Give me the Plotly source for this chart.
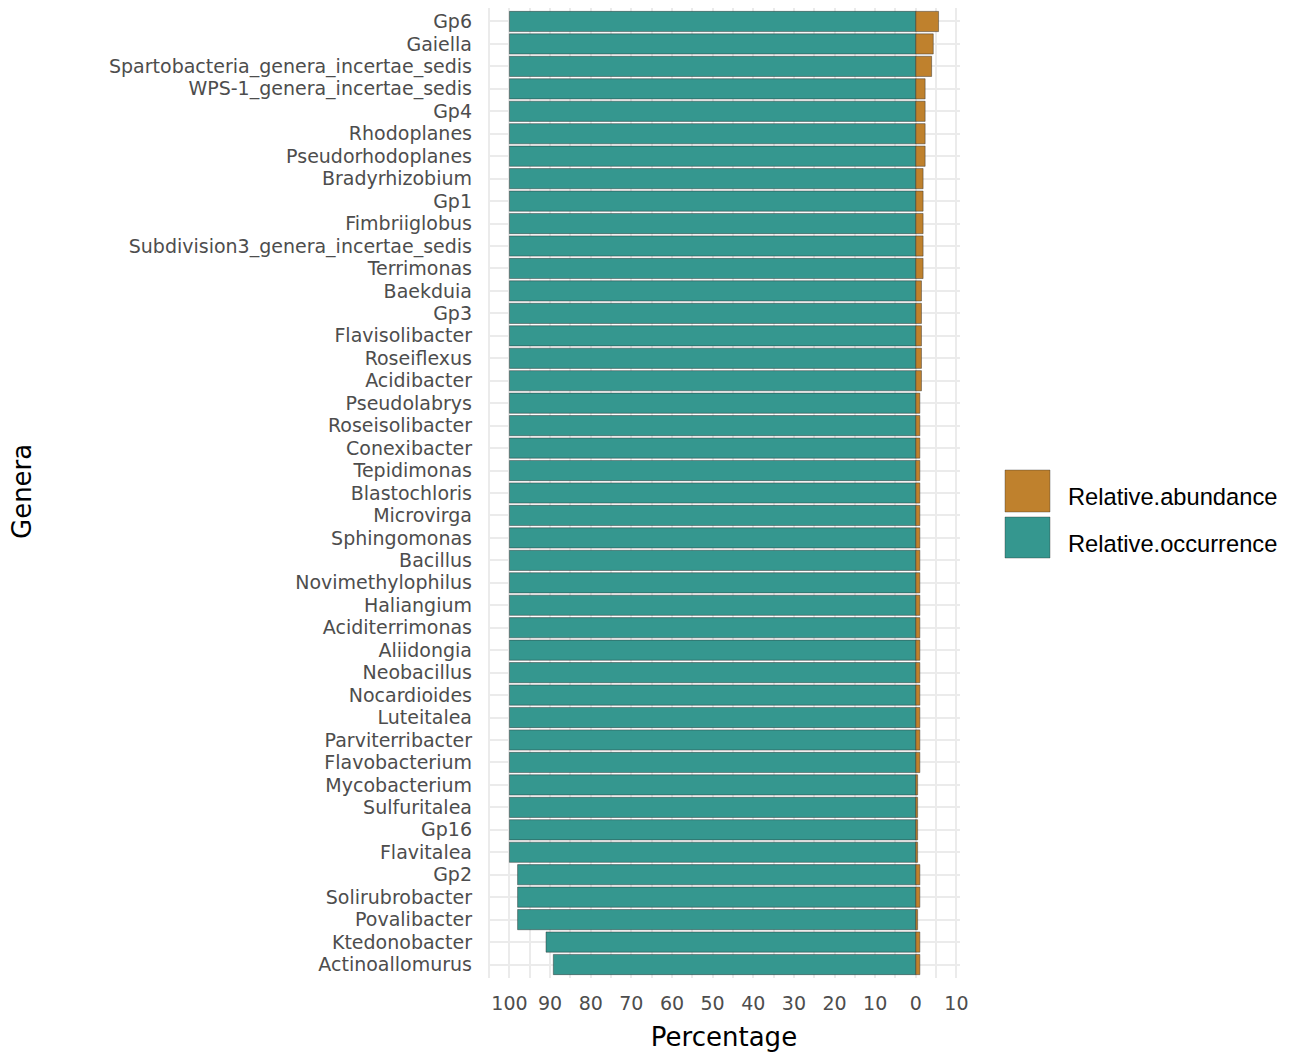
import plotly.graph_objects as go

genera = [
    "Gp6", "Gaiella", "Spartobacteria_genera_incertae_sedis", "WPS-1_genera_incertae_sedis",
    "Gp4", "Rhodoplanes", "Pseudorhodoplanes", "Bradyrhizobium", "Gp1", "Fimbriiglobus",
    "Subdivision3_genera_incertae_sedis", "Terrimonas", "Baekduia", "Gp3", "Flavisolibacter",
    "Roseiflexus", "Acidibacter", "Pseudolabrys", "Roseisolibacter", "Conexibacter",
    "Tepidimonas", "Blastochloris", "Microvirga", "Sphingomonas", "Bacillus",
    "Novimethylophilus", "Haliangium", "Aciditerrimonas", "Aliidongia", "Neobacillus",
    "Nocardioides", "Luteitalea", "Parviterribacter", "Flavobacterium", "Mycobacterium",
    "Sulfuritalea", "Gp16", "Flavitalea", "Gp2", "Solirubrobacter", "Povalibacter",
    "Ktedonobacter", "Actinoallomurus",
]

relative_occurrence = [
    100, 100, 100, 100, 100, 100, 100, 100, 100, 100,
    100, 100, 100, 100, 100, 100, 100, 100, 100, 100,
    100, 100, 100, 100, 100, 100, 100, 100, 100, 100,
    100, 100, 100, 100, 100, 100, 100, 100, 98, 98,
    98, 91, 89.2,
]

relative_abundance = [
    5.6, 4.3, 3.9, 2.3, 2.3, 2.3, 2.3, 1.8, 1.8, 1.8,
    1.8, 1.8, 1.4, 1.4, 1.4, 1.4, 1.4, 1.0, 1.0, 1.0,
    1.0, 1.0, 1.0, 1.0, 1.0, 1.0, 1.0, 1.0, 1.0, 1.0,
    1.0, 1.0, 1.0, 1.0, 0.45, 0.45, 0.45, 0.45, 1.0, 1.0,
    0.45, 1.0, 1.0,
]

x_tick_vals = [-100, -90, -80, -70, -60, -50, -40, -30, -20, -10, 0, 10]
x_tick_text = ["100", "90", "80", "70", "60", "50", "40", "30", "20", "10", "0", "10"]

series_names = ["Relative.abundance", "Relative.occurrence"]
series_colors = ["#BF812D", "#35978F"]

FONT = "Liberation Sans, Arial, sans-serif"
TICKFONT = "DejaVu Sans, Liberation Sans, sans-serif"
outline = dict(color="rgba(40,40,40,0.55)", width=0.8)

fig = go.Figure()
fig.add_trace(go.Bar(
    y=genera, x=[-v for v in relative_occurrence], orientation="h",
    name=series_names[1], marker=dict(color=series_colors[1], line=outline),
    width=0.9, showlegend=False,
))
fig.add_trace(go.Bar(
    y=genera, x=relative_abundance, orientation="h",
    name=series_names[0], marker=dict(color=series_colors[0], line=outline),
    width=0.9, showlegend=False,
))

# panel geometry
L, R, T, B = 488, 330, 8, 74
W, H = 1290, 1052
pw, ph = W - L - R, H - T - B

def px_x(p):
    return (p - L) / pw

def px_y(p):
    return (H - B - p) / ph

# custom legend (large keys like ggplot)
legend_rows = [(series_names[0], series_colors[0], 470, 512, 497),
               (series_names[1], series_colors[1], 517, 558, 544)]
for name, col, y_top, y_bot, y_txt in legend_rows:
    fig.add_shape(type="rect", xref="paper", yref="paper",
                  x0=px_x(1005), x1=px_x(1050), y0=px_y(y_bot), y1=px_y(y_top),
                  fillcolor=col, line=dict(color="rgba(40,40,40,0.45)", width=0.8))
    fig.add_annotation(xref="paper", yref="paper", x=px_x(1066), y=px_y(y_txt),
                       text=name, showarrow=False, xanchor="left", yanchor="middle",
                       font=dict(family=FONT, size=23.7, color="#000000"))

# y-axis title placed like ggplot's
fig.add_annotation(xref="paper", yref="paper", x=px_x(22), y=px_y(492),
                   text="Genera", textangle=-90, showarrow=False,
                   xanchor="center", yanchor="middle",
                   font=dict(family=TICKFONT, size=26, color="#000000"))

fig.update_layout(
    width=W, height=H,
    margin=dict(l=L, r=R, t=T, b=B, pad=0, autoexpand=False),
    barmode="relative",
    bargap=0.1,
    plot_bgcolor="white", paper_bgcolor="white",
    font=dict(family=FONT),
    showlegend=False,
    xaxis=dict(
        range=[-105.28, 10.88], automargin=False,
        tickmode="array", tickvals=x_tick_vals, ticktext=x_tick_text,
        tickfont=dict(family=TICKFONT, size=19, color="#4D4D4D"),
        showgrid=True, gridcolor="#EBEBEB", gridwidth=2,
        minor=dict(dtick=5, tick0=0, showgrid=True, gridcolor="#EBEBEB", gridwidth=1.5),
        zeroline=False, showline=False, ticks="",
        ticklabelstandoff=12,
        title=dict(text="Percentage", font=dict(family=TICKFONT, size=26, color="#000000"), standoff=14),
    ),
    yaxis=dict(
        categoryorder="array", categoryarray=genera[::-1],
        range=[-0.6, len(genera) - 0.4], automargin=False,
        tickmode="linear", tick0=0, dtick=1,
        tickfont=dict(family=TICKFONT, size=19, color="#4D4D4D"),
        showgrid=True, gridcolor="#EBEBEB", gridwidth=2,
        zeroline=False, showline=False, ticks="",
        ticklabelstandoff=15,
    ),
)

fig.write_html("out.html", config={"displayModeBar": False},
               post_script="document.body.style.margin='0px';")
